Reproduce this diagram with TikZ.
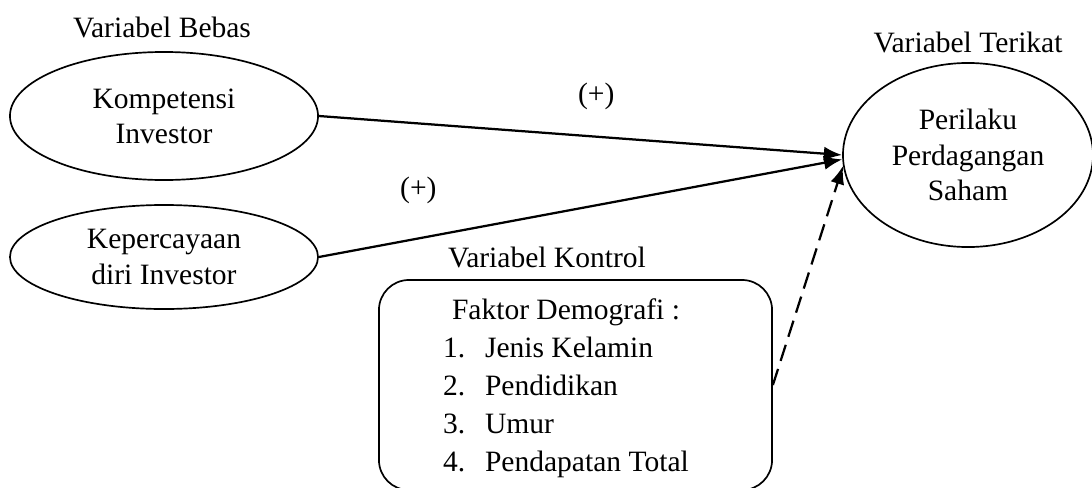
\documentclass[tikz,border=0pt]{standalone}
\usepackage{fontspec}
\setmainfont{Liberation Serif}
\usetikzlibrary{arrows.meta}
\usetikzlibrary{shapes.geometric}

\begin{document}
\begin{tikzpicture}[x=0.025cm,y=-0.025cm,inner sep=0pt,
  font=\fontsize{21}{25}\selectfont,
  elips/.style={draw,line width=1.2pt,ellipse,align=center},
  kotak/.style={draw,line width=1.2pt,rounded corners=0.75cm,minimum width=9.825cm,minimum height=5.25cm},
  panah/.style={line width=1.6pt,-{Latex[length=13pt,width=10pt]}}]
\useasboundingbox (0,0) rectangle (1092,487);

% variabel bebas
\node (bebas) at (162,27) {Variabel Bebas};
\node[elips,minimum width=7.7cm,minimum height=3.2cm] (kompetensi) at (164,116) {Kompetensi\\Investor};
\node[elips,minimum width=7.7cm,minimum height=2.6cm] (kepercayaan) at (164,257) {Kepercayaan\\diri Investor};

% variabel terikat
\node (terikat) at (968,42) {Variabel Terikat};
\node[elips,minimum width=6.25cm,minimum height=4.6cm] (perilaku) at (968,155) {Perilaku\\Perdagangan\\Saham};

% variabel kontrol
\node (judulkontrol) at (547,257) {Variabel Kontrol};
\node[kotak] (kontrol) at (575.5,385) {};
\node[font=\fontsize{21}{27}\selectfont] (demografi) at (566,388) {%
  \begin{tabular}{@{}l@{\hspace{14pt}}l@{}}
  \multicolumn{2}{@{}c@{}}{Faktor Demografi :}\\
  1. & Jenis Kelamin\\
  2. & Pendidikan\\
  3. & Umur\\
  4. & Pendapatan Total
  \end{tabular}};

\draw [panah] (kompetensi.east) -- (perilaku.west) node[pos=0.53,above=18pt]{(+)};
\draw [panah] (kepercayaan.east) -- (perilaku.182) node[pos=0.19,above=24pt]{(+)};
\draw [panah,dash pattern=on 12pt off 6pt] (kontrol.east) -- (perilaku.185);
\end{tikzpicture}
\end{document}
